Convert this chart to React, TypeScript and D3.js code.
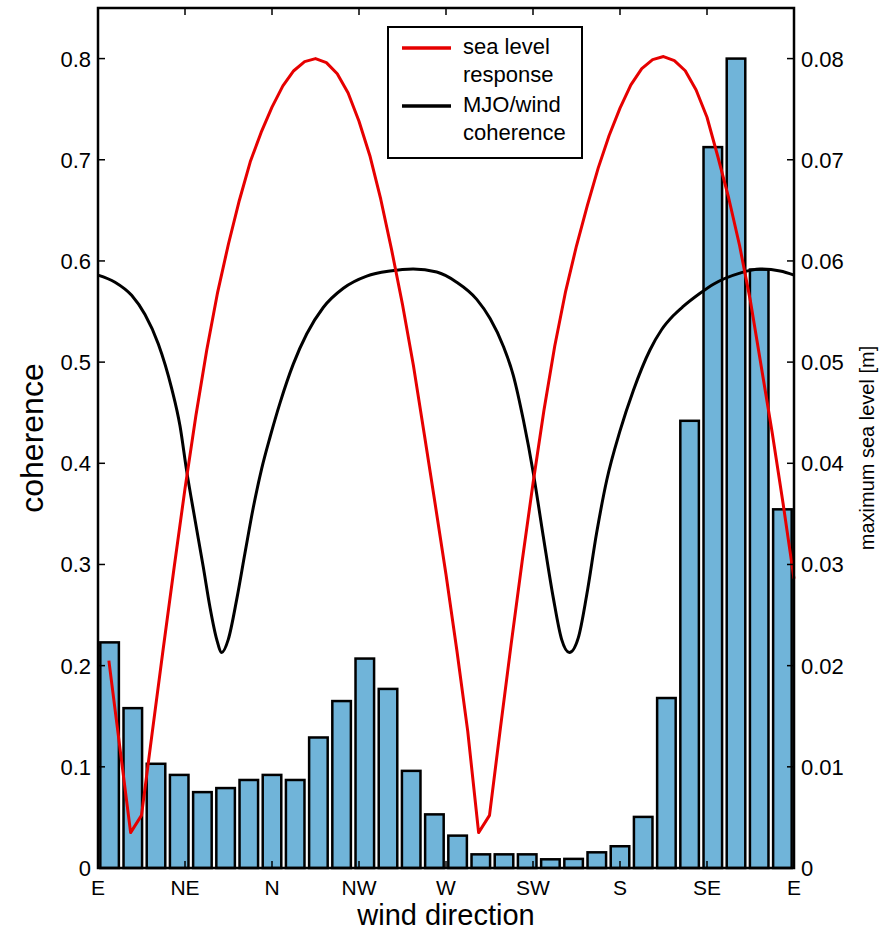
import React from 'react';
import * as d3 from 'd3';

// ---- data ----
const directionLabels = ['E', 'NE', 'N', 'NW', 'W', 'SW', 'S', 'SE', 'E'];
const directionAngles = [0, 45, 90, 135, 180, 225, 270, 315, 360];

// bar bins (12 degree bins, centre angles)
const binCenters = [6, 18, 30, 42, 54, 66, 78, 90, 102, 114, 126, 138, 150, 162, 174, 186, 198, 210, 222, 234, 246, 258, 270, 282, 294, 306, 318, 330, 342, 354];
const binWidth = 12;
const barValues = [0.223, 0.158, 0.103, 0.092, 0.075, 0.079, 0.087, 0.092, 0.087, 0.129, 0.165, 0.207, 0.177, 0.096, 0.053, 0.032, 0.0135, 0.0135, 0.0135, 0.0086, 0.009, 0.0155, 0.0215, 0.0505, 0.168, 0.442, 0.7125, 0.8, 0.5915, 0.3545];

// sea level response (right axis), sampled every 5.625 degrees
const seaAngles = [5.625, 11.25, 16.875, 22.5, 28.125, 33.75, 39.375, 45, 50.625, 56.25, 61.875, 67.5, 73.125, 78.75, 84.375, 90, 95.625, 101.25, 106.875, 112.5, 118.125, 123.75, 129.375, 135, 140.625, 146.25, 151.875, 157.5, 163.125, 168.75, 174.375, 180, 185.625, 191.25, 196.875, 202.5, 208.125, 213.75, 219.375, 225, 230.625, 236.25, 241.875, 247.5, 253.125, 258.75, 264.375, 270, 275.625, 281.25, 286.875, 292.5, 298.125, 303.75, 309.375, 315, 320.625, 326.25, 331.875, 337.5, 343.125, 348.75, 354.375, 360];
const seaValues = [
  0.0205, 0.012, 0.0035, 0.0052, 0.0135, 0.0217, 0.0297, 0.0375, 0.0447, 0.0512, 0.0569, 0.0617, 0.066, 0.0698, 0.0727, 0.0752,
  0.0773, 0.0788, 0.0797, 0.08, 0.0796, 0.0785, 0.0766, 0.0738, 0.0704, 0.0661, 0.0611, 0.0557, 0.0497, 0.0429, 0.036, 0.029,
  0.0215, 0.0135, 0.0035, 0.0052, 0.0138, 0.0222, 0.0303, 0.038, 0.0452, 0.0516, 0.057, 0.0615, 0.0655, 0.0692, 0.0724, 0.0751,
  0.0774, 0.079, 0.0799, 0.0802, 0.0798, 0.0788, 0.0769, 0.0742, 0.0703, 0.0662, 0.0615, 0.056, 0.0495, 0.043, 0.036, 0.0286,
];

// MJO / wind coherence (left axis)
const cohAngles = [0, 8.8, 17.4, 24.3, 31.2, 38.1, 42.4, 45.9, 50.2, 54.5, 57.9, 61.4, 64, 67.4, 71.7, 76, 80.3, 84.7, 89, 94.2, 101, 108, 116.5, 126.9, 139, 151, 163, 175.2, 185.5, 195.9, 202.8, 209.6, 214.8, 220, 225.2, 230.3, 235.5, 239.8, 243.8, 248.5, 252.8, 257.9, 263.1, 270, 276.9, 285.5, 291.5, 297.6, 302.7, 311.4, 318.3, 332, 342.4, 352.8, 360];
const cohValues = [0.586, 0.579, 0.566, 0.547, 0.518, 0.474, 0.437, 0.392, 0.344, 0.297, 0.258, 0.226, 0.213, 0.226, 0.265, 0.311, 0.356, 0.395, 0.426, 0.46, 0.498, 0.528, 0.554, 0.573, 0.585, 0.59, 0.592, 0.589, 0.579, 0.562, 0.543, 0.516, 0.487, 0.443, 0.39, 0.328, 0.267, 0.226, 0.213, 0.228, 0.27, 0.331, 0.383, 0.432, 0.472, 0.512, 0.532, 0.546, 0.555, 0.568, 0.577, 0.588, 0.592, 0.59, 0.586];

const leftTicks = [0, 0.1, 0.2, 0.3, 0.4, 0.5, 0.6, 0.7, 0.8];
const leftTickLabels = ['0', '0.1', '0.2', '0.3', '0.4', '0.5', '0.6', '0.7', '0.8'];
const rightTicks = [0, 0.01, 0.02, 0.03, 0.04, 0.05, 0.06, 0.07, 0.08];
const rightTickLabels = ['0', '0.01', '0.02', '0.03', '0.04', '0.05', '0.06', '0.07', '0.08'];

const legendLabels = [['sea level', 'response'], ['MJO/wind', 'coherence']];

// ---- layout ----
const W = 879, H = 932;
const L = 98, R = 794, T = 8, B = 868;
const FONT = '"Liberation Sans", Arial, Helvetica, sans-serif';
const BAR_FILL = '#70b4d9';
const RED = '#e60000';

export default function App() {
  const x = d3.scaleLinear().domain([0, 360]).range([L, R]);
  const yL = d3.scaleLinear().domain([0, 0.85]).range([B, T]);
  const yR = d3.scaleLinear().domain([0, 0.085]).range([B, T]);

  const cohLine = d3.line<number>()
    .x((_, i) => x(cohAngles[i]))
    .y((d) => yL(d))
    .curve(d3.curveMonotoneX);
  const seaLine = d3.line<number>()
    .x((_, i) => x(seaAngles[i]))
    .y((d) => yR(d));

  const tickLen = 7;

  return (
    <svg width={W} height={H} style={{ position: 'absolute', left: 0, top: 0, background: '#fff' }}
      fontFamily={FONT}>
      <rect x={0} y={0} width={W} height={H} fill="#fff" />
      {/* bars */}
      {barValues.map((v, i) => {
        const x0 = x(binCenters[i] - binWidth * 0.4);
        const x1 = x(binCenters[i] + binWidth * 0.4);
        return (
          <rect key={i} x={x0} y={yL(v)} width={x1 - x0} height={yL(0) - yL(v)}
            fill={BAR_FILL} stroke="#000" strokeWidth={2.5} />
        );
      })}
      {/* lines */}
      <path d={cohLine(cohValues) || ''} fill="none" stroke="#000" strokeWidth={3} />
      <path d={seaLine(seaValues) || ''} fill="none" stroke={RED} strokeWidth={3} strokeLinejoin="round" />

      {/* frame */}
      <rect x={L} y={T} width={R - L} height={B - T} fill="none" stroke="#000" strokeWidth={2.5} />

      {/* left axis */}
      {leftTicks.map((t, i) => (
        <g key={'l' + i}>
          <line x1={L} x2={L + tickLen} y1={yL(t)} y2={yL(t)} stroke="#000" strokeWidth={1.5} />
          <text x={L - 7} y={yL(t)} dy="0.36em" textAnchor="end" fontSize={22}>{leftTickLabels[i]}</text>
        </g>
      ))}
      {/* right axis */}
      {rightTicks.map((t, i) => (
        <g key={'r' + i}>
          <line x1={R} x2={R - tickLen} y1={yR(t)} y2={yR(t)} stroke="#000" strokeWidth={1.5} />
          <text x={R + 7} y={yR(t)} dy="0.36em" textAnchor="start" fontSize={22}>{rightTickLabels[i]}</text>
        </g>
      ))}
      {/* x axis */}
      {directionAngles.map((a, i) => (
        <g key={'x' + i}>
          <line x1={x(a)} x2={x(a)} y1={B} y2={B - tickLen} stroke="#000" strokeWidth={1.5} />
          <line x1={x(a)} x2={x(a)} y1={T} y2={T + tickLen} stroke="#000" strokeWidth={1.5} />
          <text x={x(a)} y={B + 27} textAnchor="middle" fontSize={21}>{directionLabels[i]}</text>
        </g>
      ))}

      {/* axis titles */}
      <text x={(L + R) / 2} y={925} textAnchor="middle" fontSize={29}>wind direction</text>
      <text transform={`translate(43, ${(T + B) / 2}) rotate(-90)`} textAnchor="middle" fontSize={32}>coherence</text>
      <text transform={`translate(874, ${(T + B) / 2 + 10}) rotate(-90)`} textAnchor="middle" fontSize={20}>maximum sea level [m]</text>

      {/* legend */}
      <g>
        <rect x={388} y={27} width={194} height={131} fill="#fff" stroke="#000" strokeWidth={2} />
        <line x1={402} x2={451} y1={48} y2={48} stroke={RED} strokeWidth={3.5} />
        <line x1={402} x2={451} y1={106} y2={106} stroke="#000" strokeWidth={3.5} />
        {legendLabels.map((lines, i) => (
          lines.map((s, j) => (
            <text key={i + '-' + j} x={463} y={54 + i * 58 + j * 28} fontSize={22}>{s}</text>
          ))
        ))}
      </g>
    </svg>
  );
}
